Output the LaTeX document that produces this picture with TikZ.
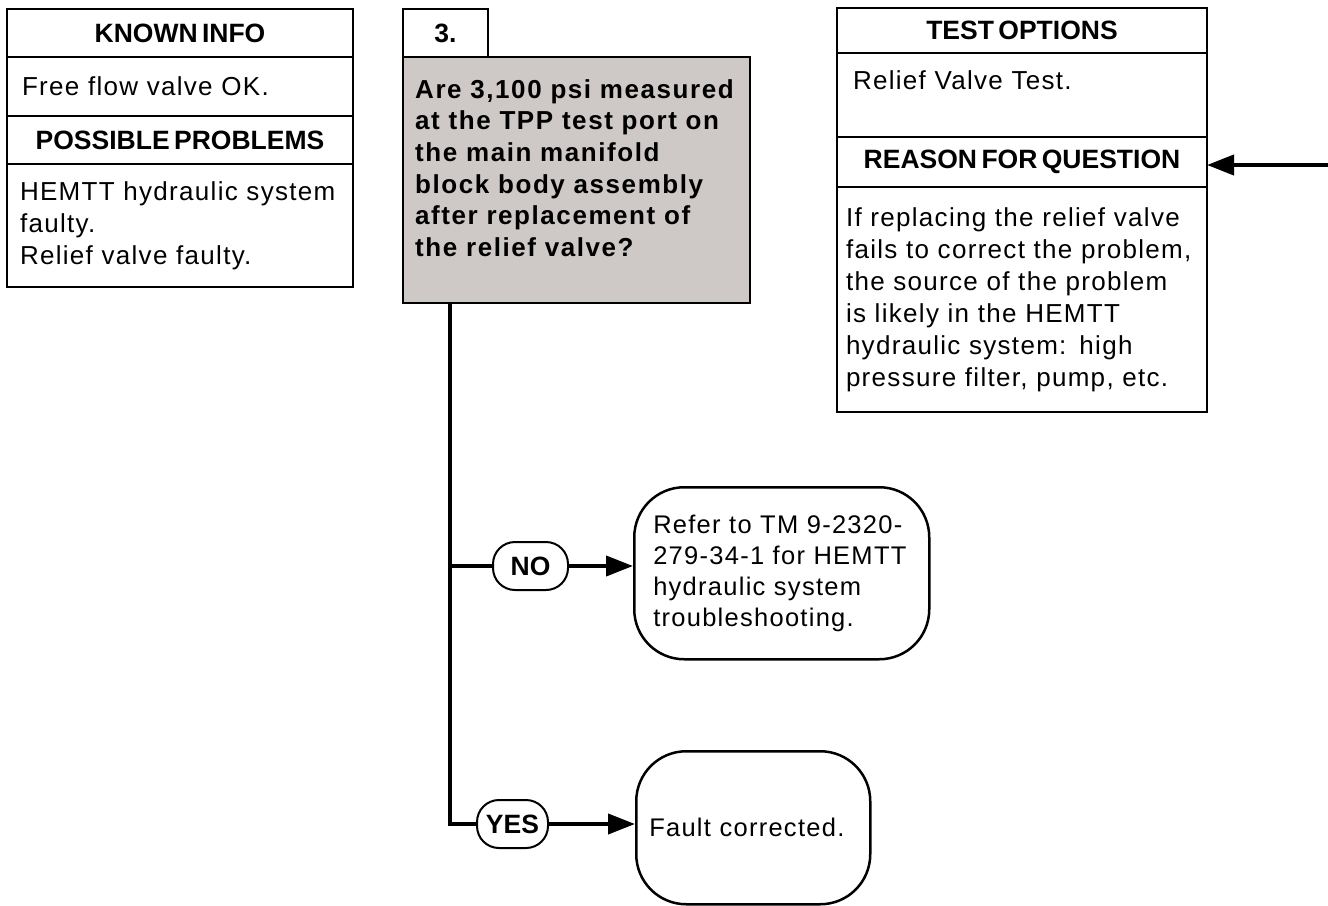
\documentclass[tikz,border=0pt]{standalone}
\usepackage{fontspec}
\setmainfont{Liberation Sans}[LetterSpace=5]
\newfontfamily\hdrfont{Liberation Sans}[WordSpace=0.6]
\newfontfamily\qfont{Liberation Sans}[LetterSpace=6]
\usetikzlibrary{positioning,arrows.meta}
\definecolor{qgray}{RGB}{206,200,199}

\begin{document}
\begin{tikzpicture}[x=1pt, y=1pt, >={Triangle[length=27pt,width=20pt]}]

% --- styles ---
\tikzset{
  box/.style={draw, line width=2.5pt, outer sep=0pt, inner ysep=0pt},
  hdr/.style={box, font=\hdrfont\bfseries\fontsize{26.5pt}{30pt}\selectfont},
  txt/.style={box, align=left, font=\fontsize{26pt}{32pt}\selectfont},
  pill/.style={draw, line width=2pt, rounded corners=22pt, minimum width=#1,
    minimum height=48pt, inner sep=0pt, font=\hdrfont\bfseries\fontsize{26.5pt}{30pt}\selectfont},
  endbox/.style={draw, line width=2.5pt, align=left, inner ysep=0pt,
    font=\fontsize{25.5pt}{31pt}\selectfont},
  link/.style={line width=4pt},
}

% --- page size ---
\useasboundingbox (0,0) rectangle (1328,-905);

% --- left table ---
\node (known) [hdr, anchor=north west, minimum width=346pt, minimum height=48pt] at (7,-9) {KNOWN INFO};
\node (knownTxt) [txt, below=0pt of known, minimum height=59pt, inner xsep=15pt, text width=316pt] {Free flow valve OK.};
\node (probs) [hdr, below=0pt of knownTxt, minimum width=346pt, minimum height=48pt] {POSSIBLE PROBLEMS};
\node (probsTxt) [txt, below=0pt of probs, minimum height=123pt, inner xsep=13pt, text width=320pt]
  {HEMTT hydraulic system\\faulty.\\Relief valve faulty.};

% --- question ---
\node (step) [hdr, anchor=north west, minimum width=85pt, minimum height=48pt] at (403,-9) {3.};
\node (question) [box, fill=qgray, anchor=north west, minimum width=347pt, minimum height=246pt] at (403,-57) {};
\node (qText) [anchor=north west, inner sep=0pt, align=left,
  font=\qfont\bfseries\fontsize{26pt}{31.7pt}\selectfont] at ([shift={(12,-22)}]question.north west)
  {Are 3,100 psi measured\\at the TPP test port on\\the main manifold\\block body assembly\\after replacement of\\the relief valve?};

% --- right table ---
\node (tests) [hdr, anchor=north west, minimum width=370pt, minimum height=45pt] at (837,-8) {TEST OPTIONS};
\node (testsTxt) [txt, below=0pt of tests, minimum height=84pt, inner xsep=16pt, text width=338pt, text depth=29pt]
  {Relief Valve Test.};
\node (reason) [hdr, below=0pt of testsTxt, minimum width=370pt, minimum height=50pt] {REASON FOR QUESTION};
\node (reasonTxt) [txt, below=0pt of reason, minimum height=225pt, inner xsep=9pt, text width=352pt]
  {If replacing the relief valve\\fails to correct the problem,\\the source of the problem\\is likely in the HEMTT\\hydraulic system: high\\pressure filter, pump, etc.};
\coordinate (rin) at (1328,-165);
\draw[link, ->] (rin) -- (rin -| reason.east);

% --- answers ---
\node (noPill) [pill=75pt] at (530.5,-566) {NO};
\node (yesPill) [pill=71pt] at (512.5,-824) {YES};
\node (noBox) [endbox, rounded corners=50pt, anchor=north west, minimum width=295pt, minimum height=172pt,
  inner xsep=19pt, text width=257pt] at (633,-486)
  {Refer to TM 9-2320-\\279-34-1 for HEMTT\\hydraulic system\\troubleshooting.};
\node (yesBox) [endbox, rounded corners=50pt, anchor=north west, minimum width=234pt, minimum height=153pt,
  inner xsep=13pt, text width=208pt] at (635,-750) {Fault corrected.};

% --- connectors ---
\coordinate (qfoot) at ([xshift=47pt]question.south west);
\draw[link] (qfoot) |- (yesPill.west);
\draw[link] (qfoot |- noPill) -- (noPill.west);
\draw[link, ->] (noPill.east) -- (noPill.east -| noBox.west);
\draw[link, ->] (yesPill.east) -- (yesPill.east -| yesBox.west);

\end{tikzpicture}
\end{document}
